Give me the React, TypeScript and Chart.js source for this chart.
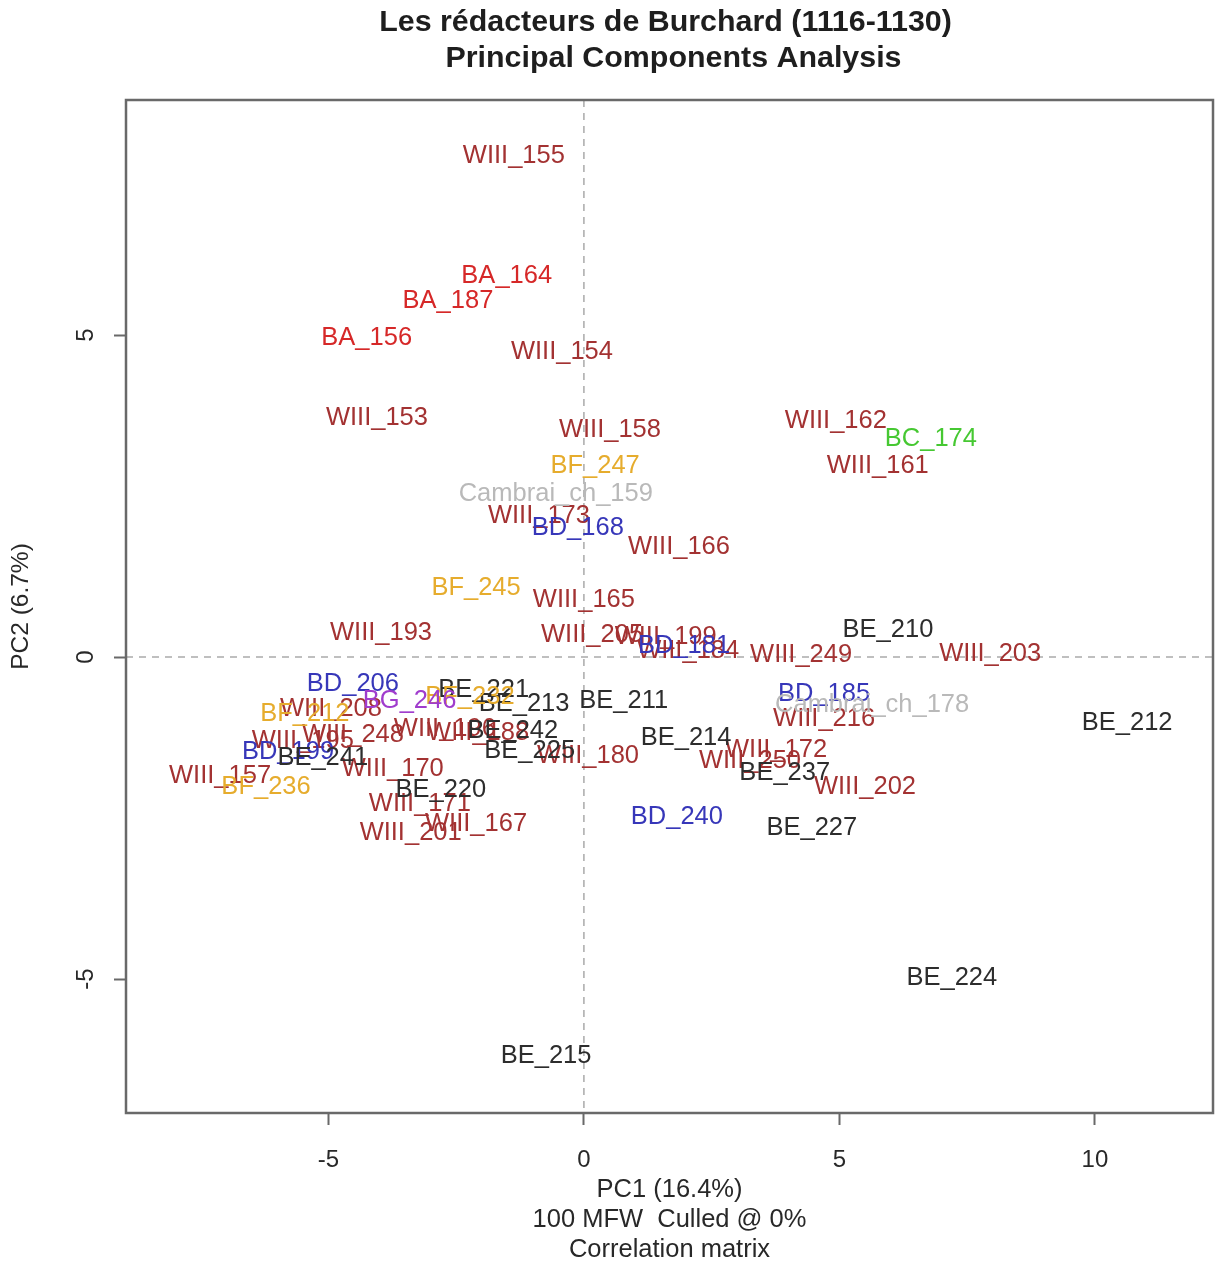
import React, { useEffect, useRef } from "react";
import { Chart, registerables } from "chart.js";

Chart.register(...registerables);

const TITLE_LINES = ["Les rédacteurs de Burchard (1116-1130)", "Principal Components Analysis"];
const X_TITLE = ["PC1 (16.4%)", "100 MFW  Culled @ 0%", "Correlation matrix"];
const Y_TITLE = "PC2 (6.7%)";
const X_TICKS = [-5, 0, 5, 10];
const Y_TICKS = [-5, 0, 5];

const GROUPS = ["WIII", "BA", "BC", "BD", "BE", "BF", "BG", "Cambrai"];
const GROUP_COLORS = [
  "rgb(163,50,50)",
  "rgb(214,40,40)",
  "rgb(70,200,50)",
  "rgb(55,55,185)",
  "rgb(45,45,45)",
  "rgb(230,172,45)",
  "rgb(160,60,205)",
  "rgb(185,185,185)",
];

const TEXTS = [
  "WIII_155", "BA_164", "BA_187", "BA_156", "WIII_154", "WIII_153", "WIII_158", "WIII_162",
  "BC_174", "WIII_161", "BF_247", "Cambrai_ch_159", "WIII_173", "BD_168", "WIII_166", "BF_245",
  "WIII_165", "WIII_193", "BE_210", "WIII_203", "WIII_205", "WIII_199", "BD_181", "WIII_184",
  "WIII_249", "BD_206", "BE_221", "BF_232", "BG_246", "BE_213", "BE_211", "WIII_208",
  "BF_212", "WIII_195", "WIII_248", "WIII_196", "WIII_188", "BE_242", "BE_225", "WIII_180",
  "BD_199", "BE_241", "WIII_170", "WIII_157", "BF_236", "BE_220", "WIII_171", "WIII_167",
  "WIII_201", "BE_214", "BD_185", "Cambrai_ch_178", "WIII_216", "WIII_172", "WIII_250", "BE_237",
  "WIII_202", "BD_240", "BE_227", "BE_212", "BE_224", "BE_215",
];

const PC1 = [
  -1.37, -1.51, -2.66, -4.25, -0.43, -4.05, 0.51, 4.93,
  6.79, 5.75, 0.22, -0.55, -0.88, -0.12, 1.86, -2.11,
  0.0, -3.97, 5.95, 7.95, 0.16, 1.6, 1.96, 2.04,
  4.25, -4.52, -1.96, -2.23, -3.41, -1.17, 0.78, -4.95,
  -5.46, -5.5, -4.52, -2.72, -2.07, -1.39, -1.06, 0.08,
  -5.79, -5.11, -3.74, -7.12, -6.22, -2.8, -3.21, -2.11,
  -3.39, 2.0, 4.7, 5.64, 4.7, 3.76, 3.25, 3.93,
  5.5, 1.82, 4.46, 10.63, 7.2, -0.74,
];

const PC2 = [
  7.78, 5.92, 5.53, 4.95, 4.74, 3.71, 3.52, 3.66,
  3.38, 2.96, 2.96, 2.53, 2.19, 2.0, 1.71, 1.07,
  0.88, 0.37, 0.42, 0.05, 0.34, 0.31, 0.17, 0.09,
  0.03, -0.42, -0.51, -0.62, -0.68, -0.73, -0.68, -0.81,
  -0.88, -1.3, -1.21, -1.12, -1.18, -1.15, -1.46, -1.53,
  -1.47, -1.57, -1.74, -1.84, -2.02, -2.06, -2.28, -2.59,
  -2.73, -1.26, -0.57, -0.74, -0.96, -1.44, -1.61, -1.8,
  -2.02, -2.48, -2.65, -1.02, -4.99, -6.19,
];

function groupOf(name: string): string {
  if (name.startsWith("Cambrai")) return "Cambrai";
  return name.split("_")[0];
}

const FONT = '"Liberation Sans", Arial, Helvetica, sans-serif';
const AXIS_COLOR = "rgb(105,105,105)";
const TEXT_COLOR = "rgb(40,40,40)";

const labelPlugin = {
  id: "pcaLabels",
  beforeDatasetsDraw(chart: any) {
    const { ctx, chartArea, scales } = chart;
    const x0 = scales.x.getPixelForValue(0);
    const y0 = scales.y.getPixelForValue(0);
    ctx.save();
    ctx.strokeStyle = "rgb(170,170,170)";
    ctx.lineWidth = 1.5;
    ctx.setLineDash([7, 6]);
    ctx.beginPath();
    ctx.moveTo(x0, chartArea.top);
    ctx.lineTo(x0, chartArea.bottom);
    ctx.moveTo(chartArea.left, y0);
    ctx.lineTo(chartArea.right, y0);
    ctx.stroke();
    ctx.restore();
  },
  afterDatasetsDraw(chart: any) {
    const { ctx, chartArea } = chart;
    ctx.save();
    ctx.font = `25.5px ${FONT}`;
    ctx.textAlign = "center";
    ctx.textBaseline = "middle";
    chart.data.datasets.forEach((ds: any, di: number) => {
      const meta = chart.getDatasetMeta(di);
      meta.data.forEach((el: any, i: number) => {
        ctx.fillStyle = ds.textColor;
        ctx.fillText(ds.names[i], el.x, el.y);
      });
    });
    // plot frame
    ctx.strokeStyle = AXIS_COLOR;
    ctx.lineWidth = 2.5;
    ctx.setLineDash([]);
    ctx.strokeRect(chartArea.left, chartArea.top, chartArea.right - chartArea.left, chartArea.bottom - chartArea.top);
    // title
    const cx = (chartArea.left + chartArea.right) / 2;
    ctx.fillStyle = "rgb(30,30,30)";
    ctx.font = `bold 30.4px ${FONT}`;
    ctx.fillText(TITLE_LINES[0], cx - 4, 23);
    ctx.fillText(TITLE_LINES[1], cx + 4, 59);
    ctx.restore();
  },
};

export default function App() {
  const canvasRef = useRef<HTMLCanvasElement | null>(null);

  useEffect(() => {
    document.body.style.margin = "0";
    const canvas = canvasRef.current;
    if (!canvas) return;

    const datasets = GROUPS.map((g, gi) => {
      const idx = TEXTS.map((t, i) => i).filter((i) => groupOf(TEXTS[i]) === g);
      return {
        label: g,
        data: idx.map((i) => ({ x: PC1[i], y: PC2[i] })),
        names: idx.map((i) => TEXTS[i]),
        textColor: GROUP_COLORS[gi],
        pointRadius: 0,
        pointHoverRadius: 0,
        showLine: false,
      };
    });

    const chart = new Chart(canvas, {
      type: "scatter",
      data: { datasets: datasets as any },
      plugins: [labelPlugin],
      options: {
        animation: false,
        responsive: false,
        events: [],
        layout: { padding: { top: 100, right: 4, left: 0, bottom: 0 } },
        plugins: { legend: { display: false }, tooltip: { enabled: false }, title: { display: false } },
        scales: {
          x: {
            type: "linear",
            min: -8.96,
            max: 12.31,
            afterBuildTicks: (s: any) => {
              s.ticks = X_TICKS.map((v) => ({ value: v }));
            },
            afterFit: (s: any) => {
              s.height = 150;
            },
            border: { display: false },
            grid: {
              drawOnChartArea: false,
              drawTicks: true,
              tickLength: 12,
              tickColor: AXIS_COLOR,
              tickWidth: 2,
              color: AXIS_COLOR,
            },
            ticks: {
              font: { family: FONT, size: 24 },
              color: TEXT_COLOR,
              padding: 21,
              maxRotation: 0,
              callback: (v: any) => String(v),
            },
            title: {
              display: true,
              text: X_TITLE,
              font: { family: FONT, size: 25.5, lineHeight: 1.18 },
              color: TEXT_COLOR,
              padding: { top: 0, bottom: -2 },
            },
          },
          y: {
            type: "linear",
            min: -7.08,
            max: 8.65,
            afterBuildTicks: (s: any) => {
              s.ticks = Y_TICKS.map((v) => ({ value: v }));
            },
            afterFit: (s: any) => {
              s.width = 126;
            },
            border: { display: false },
            grid: {
              drawOnChartArea: false,
              drawTicks: true,
              tickLength: 12,
              tickColor: AXIS_COLOR,
              tickWidth: 2,
              color: AXIS_COLOR,
            },
            ticks: {
              font: { family: FONT, size: 24 },
              color: TEXT_COLOR,
              padding: 17,
              minRotation: 90,
              maxRotation: 90,
              crossAlign: "center",
              callback: (v: any) => String(v),
            },
            title: {
              display: true,
              text: Y_TITLE,
              font: { family: FONT, size: 24.5, lineHeight: 1.2 },
              color: TEXT_COLOR,
              padding: { top: 7, bottom: 0 },
            },
          },
        },
      } as any,
    });

    return () => chart.destroy();
  }, []);

  return (
    <div style={{ width: 1217, height: 1263, background: "#fff" }}>
      <canvas ref={canvasRef} width={1217} height={1263} style={{ display: "block" }} />
    </div>
  );
}
